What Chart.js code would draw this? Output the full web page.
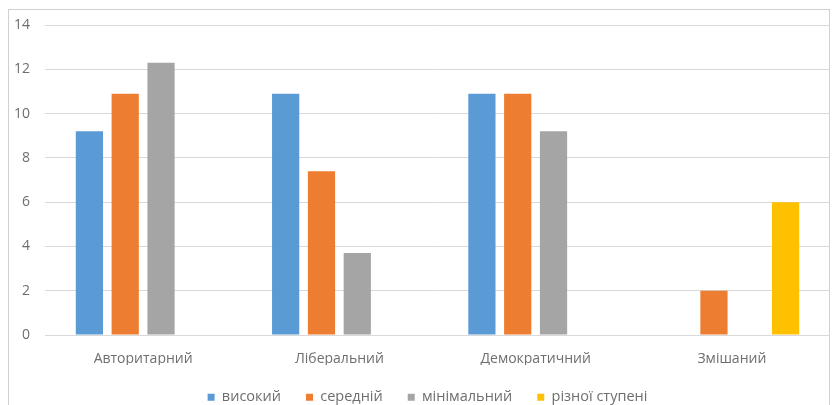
<!DOCTYPE html>
<html>
<head>
<meta charset="utf-8">
<script src="https://cdn.jsdelivr.net/npm/chart.js@4"></script>
<style>
  html, body { margin: 0; padding: 0; background: #fff; }
  #wrap { position: relative; width: 832px; height: 405px; overflow: hidden; }
  #frame { position: absolute; left: 8px; top: 9px; width: 822px; height: 420px; border: 1px solid #d0d0d0; box-sizing: border-box; }
  canvas { position: absolute; left: 0; top: 0; }
</style>
</head>
<body>
<div id="wrap">
  <div id="frame"></div>
  <canvas id="c" width="832" height="405"></canvas>
</div>
<script>
const categories = ['Авторитарний', 'Ліберальний', 'Демократичний', 'Змішаний'];
const seriesNames = ['високий', 'середній', 'мінімальний', 'різної ступені'];
const seriesColors = ['#5B9BD5', '#ED7D31', '#A5A5A5', '#FFC000'];
const high = [9.2, 10.9, 10.9, null];
const medium = [10.9, 7.4, 10.9, 2];
const minimal = [12.3, 3.7, 9.2, null];
const various = [null, null, null, 6];
const yTicks = [0, 2, 4, 6, 8, 10, 12, 14];

const values = [high, medium, minimal, various];
const textColor = '#6e6e6e';
const fontFamily = '"Open Sans", "DejaVu Sans", sans-serif';

const legendFitPlugin = {
  id: 'legendFit',
  beforeInit(chart) {
    const lg = chart.legend;
    if (lg) {
      const origFit = lg.fit.bind(lg);
      lg.fit = function () { origFit(); this.height = 40; };
      const origDraw = lg.draw.bind(lg);
      lg.draw = function () { this.left += 25; origDraw(); this.left -= 25; };
    }
  }
};

new Chart(document.getElementById('c'), {
  type: 'bar',
  data: {
    labels: categories,
    datasets: seriesNames.map((name, i) => ({
      label: name,
      data: values[i],
      backgroundColor: seriesColors[i],
      borderWidth: 0,
      categoryPercentage: 0.73,
      barPercentage: 0.76
    }))
  },
  options: {
    responsive: false,
    animation: false,
    devicePixelRatio: 1,
    layout: { padding: { left: 0, right: 2, top: 25, bottom: 0 } },
    plugins: {
      tooltip: { enabled: false },
      legend: {
        position: 'bottom',
        labels: {
          boxWidth: 7,
          boxHeight: 7,
          padding: 25,
          color: textColor,
          font: { family: fontFamily, size: 14.5 }
        }
      }
    },
    scales: {
      x: {
        afterFit(scale) { scale.height = 30; },
        grid: { display: false, drawTicks: false },
        border: { display: false },
        ticks: { color: textColor, padding: 16, font: { family: fontFamily, size: 14 } }
      },
      y: {
        min: 0,
        max: 14,
        afterFit(scale) { scale.width = 45; },
        afterBuildTicks(scale) { scale.ticks = yTicks.map(v => ({ value: v })); },
        grid: { color: '#d9d9d9', lineWidth: 1, drawTicks: false },
        border: { display: false },
        ticks: { color: textColor, padding: 15, font: { family: fontFamily, size: 14 } }
      }
    }
  },
  plugins: [legendFitPlugin]
});
</script>
</body>
</html>
